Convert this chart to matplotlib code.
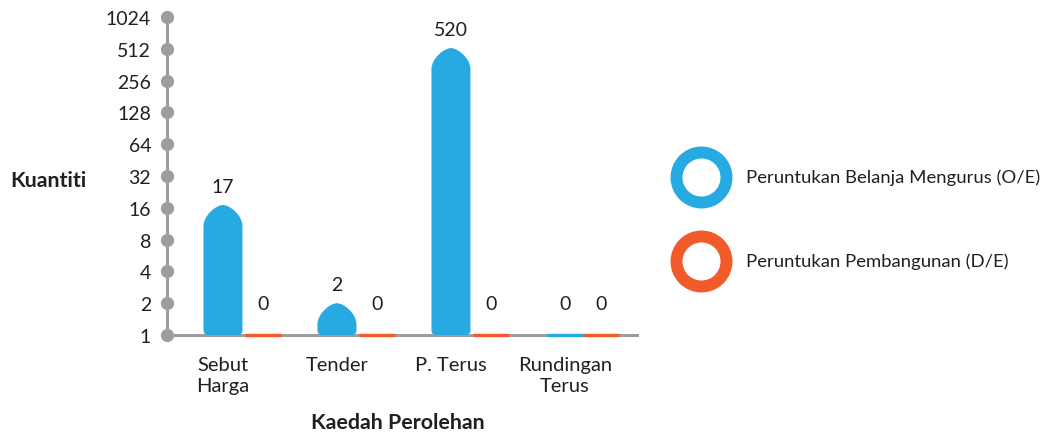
import numpy as np
import matplotlib
matplotlib.use('Agg')
import matplotlib.pyplot as plt
from matplotlib.path import Path
from matplotlib.patches import PathPatch
from matplotlib.transforms import blended_transform_factory

## data
kaedah = ['Sebut\nHarga', 'Tender', 'P. Terus', 'Rundingan\nTerus']
oe_vals = [17, 2, 520, 0]     # Peruntukan Belanja Mengurus (O/E)
de_vals = [0, 0, 0, 0]        # Peruntukan Pembangunan (D/E)
yticks = [1, 2, 4, 8, 16, 32, 64, 128, 256, 512, 1024]
series_names = ['Peruntukan Belanja Mengurus (O/E)', 'Peruntukan Pembangunan (D/E)']

## style
BLUE = '#27AAE1'
ORANGE = '#F15A29'
GREY = '#9D9D9F'
TXT = '#231F20'
plt.rcParams['font.family'] = ['Lato', 'DejaVu Sans']

W, H = 1045, 435
fig = plt.figure(figsize=(W / 100, H / 100), dpi=100)
ax = fig.add_axes([167 / W, 99 / H, 470 / W, 318 / H])
ax.set_yscale('log', base=2)
ax.set_ylim(1, 1024)
ax.set_xlim(-0.491, 3.632)

px_x = 470 / (3.632 + 0.491)   # pixels per category unit
px_y = 318.0                   # pixels per axes height
bar_w = 39 / px_x
zero_w = 36 / px_x
offset = 40 / px_x

trans = blended_transform_factory(ax.transData, ax.transAxes)


def bullet_bar(xc, val, color):
    # rounded-bottom bar with a pointed cap, height on the log2 scale
    x0, x1 = xc - bar_w / 2, xc + bar_w / 2
    yb, yt = 0.0, np.log2(val) / 10.0
    c = 21 / px_y
    rx, ry = 5 / px_x, 5 / px_y
    verts = [(x0 + rx, yb), (x1 - rx, yb),
             (x1, yb), (x1, yb + ry),
             (x1, yt - c),
             (x1, yt - c * 0.5), (xc + bar_w * 0.18, yt), (xc, yt),
             (xc - bar_w * 0.18, yt), (x0, yt - c * 0.5), (x0, yt - c),
             (x0, yb + ry),
             (x0, yb), (x0 + rx, yb),
             (x0 + rx, yb)]
    codes = [Path.MOVETO, Path.LINETO,
             Path.CURVE3, Path.CURVE3,
             Path.LINETO,
             Path.CURVE4, Path.CURVE4, Path.CURVE4,
             Path.CURVE4, Path.CURVE4, Path.CURVE4,
             Path.LINETO,
             Path.CURVE3, Path.CURVE3,
             Path.CLOSEPOLY]
    ax.add_patch(PathPatch(Path(verts, codes), transform=trans, facecolor=color,
                           edgecolor='none', zorder=4, clip_on=False))


def draw_series(xs, vals, color):
    for xc, v in zip(xs, vals):
        if v > 0:
            bullet_bar(xc, v, color)
            ax.annotate(str(v), (xc, v), xytext=(0, 19 * 0.72), textcoords='offset points',
                        ha='center', va='center', fontsize=14, color=TXT)
        else:
            ax.plot([xc - zero_w / 2, xc + zero_w / 2], [1, 1], color=color, lw=2.4,
                    solid_capstyle='butt', zorder=4, clip_on=False)
            ax.annotate('0', (xc, 1), xytext=(0, 31 * 0.72), textcoords='offset points',
                        ha='center', va='center', fontsize=14, color=TXT)


xs = np.arange(len(kaedah))
draw_series(xs, oe_vals, BLUE)
# the D/E zero line sits a little closer on the last category
de_x = xs + offset
de_x[-1] = xs[-1] + 36 / px_x
draw_series(de_x, de_vals, ORANGE)

## axes
for s in ['top', 'right']:
    ax.spines[s].set_visible(False)
for s in ['left', 'bottom']:
    ax.spines[s].set_color(GREY)
    ax.spines[s].set_linewidth(2.2)
ax.set_yticks(yticks)
ax.set_yticklabels([str(t) for t in yticks])
ax.yaxis.set_minor_locator(matplotlib.ticker.NullLocator())
ax.tick_params(axis='y', length=0, pad=11.5, labelsize=14, labelcolor=TXT)
ax.plot([ax.get_xlim()[0]] * len(yticks), yticks, 'o', color=GREY, ms=8.5,
        clip_on=False, zorder=5)
ax.set_xticks(xs)
ax.set_xticklabels(kaedah, linespacing=1.32)
ax.tick_params(axis='x', length=0, pad=15, labelsize=14.5, labelcolor=TXT)

fig.text(10 / W, 1 - 181 / H, 'Kuantiti', fontsize=15.4, fontweight='bold',
         color=TXT, ha='left', va='center')
fig.text(398 / W, 1 - 423 / H, 'Kaedah Perolehan', fontsize=15.4, fontweight='bold',
         color=TXT, ha='center', va='center')

## legend rings
for yy, col, name in zip([178, 262], [BLUE, ORANGE], series_names):
    fig.lines.append(plt.Line2D([701 / W], [1 - yy / H], marker='o', ms=36,
                                mfc='white', mec=col, mew=8.6,
                                transform=fig.transFigure))
    fig.text(746 / W, 1 - yy / H, name, fontsize=13.3, color=TXT,
             ha='left', va='center')

fig.savefig('out.png', dpi=100)
